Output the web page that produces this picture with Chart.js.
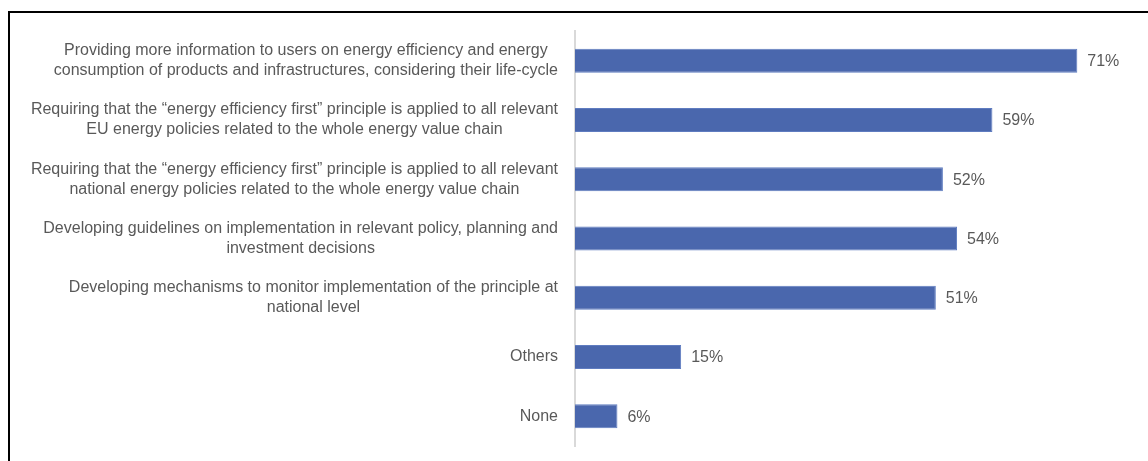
<!DOCTYPE html>
<html>
<head>
<meta charset="utf-8">
<script src="https://cdn.jsdelivr.net/npm/chart.js@4/dist/chart.umd.min.js"></script>
<style>
  html, body { margin: 0; padding: 0; background: #fff; }
  #wrap { position: relative; width: 1148px; height: 461px; overflow: hidden; }
  #frame { position: absolute; left: 8px; top: 11px; width: 1200px; height: 500px;
           border-top: 2px solid #000; border-left: 2px solid #000; }
  canvas { position: absolute; left: 0; top: 0; }
</style>
</head>
<body>
<div id="wrap">
  <div id="frame"></div>
  <canvas id="bars" width="1148" height="461"></canvas>
</div>
<script>
var categories = [
    ["Providing more information to users on energy efficiency and energy", "consumption of products and infrastructures, considering their life-cycle"],
    ["Requiring that the \u201cenergy efficiency first\u201d principle is applied to all relevant", "EU energy policies related to the whole energy value chain"],
    ["Requiring that the \u201cenergy efficiency first\u201d principle is applied to all relevant", "national energy policies related to the whole energy value chain"],
    ["Developing guidelines on implementation in relevant policy, planning and", "investment decisions"],
    ["Developing mechanisms to monitor implementation of the principle at", "national level"],
    ["Others"],
    ["None"]
];
var shares = [71, 59, 52, 54, 51, 15, 6];

var textColor = '#595959';
var labelFont = '16px "Liberation Sans", Arial, sans-serif';
var valueFont = '16px "Liberation Sans", Arial, sans-serif';

// category labels: each block right aligned to the axis, its lines centred inside the block
var categoryLabels = {
    id: 'categoryLabels',
    afterDraw: function (chart) {
        var ctx = chart.ctx;
        var y = chart.scales.y;
        var right = chart.chartArea.left - 17;
        var lineH = 20;
        ctx.save();
        ctx.font = labelFont;
        ctx.fillStyle = textColor;
        ctx.textAlign = 'center';
        ctx.textBaseline = 'middle';
        categories.forEach(function (lines, i) {
            var w = 0;
            lines.forEach(function (l) { w = Math.max(w, ctx.measureText(l).width); });
            var cx = right - w / 2;
            var cy = y.getPixelForTick(i);
            var top = cy - (lines.length - 1) * lineH / 2;
            lines.forEach(function (l, k) {
                ctx.fillText(l, cx, top + k * lineH);
            });
        });
        ctx.restore();
    }
};

// percentage next to the end of each bar
var valueLabels = {
    id: 'valueLabels',
    afterDatasetsDraw: function (chart) {
        var ctx = chart.ctx;
        var meta = chart.getDatasetMeta(0);
        ctx.save();
        ctx.font = valueFont;
        ctx.fillStyle = textColor;
        ctx.textAlign = 'left';
        ctx.textBaseline = 'middle';
        meta.data.forEach(function (bar, i) {
            ctx.fillText(shares[i] + '%', bar.x + 10, bar.y + 1);
        });
        ctx.restore();
    }
};

var ctx = document.getElementById('bars');

var chartGraph = new Chart(ctx, {
    type: 'bar',
    data: {
        labels: categories,
        datasets: [
            {
                data: shares,
                backgroundColor: '#4a67ad',
                borderColor: '#5f7cc0',
                borderWidth: 1,
                borderSkipped: 'start',
                categoryPercentage: 1,
                barPercentage: 0.405
            }
        ]
    },
    options: {
        indexAxis: 'y',
        responsive: false,
        animation: false,
        layout: {
            padding: { left: 0, top: 31, right: 7, bottom: 15 }
        },
        plugins: {
            legend: { display: false },
            tooltip: { enabled: false }
        },
        scales: {
            x: {
                display: false,
                min: 0,
                max: 80
            },
            y: {
                grid: { display: false },
                border: { display: true, color: '#d9d9d9', width: 2 },
                ticks: { display: false },
                afterFit: function (scale) { scale.width = 575; }
            }
        }
    },
    plugins: [categoryLabels, valueLabels]
});
</script>
</body>
</html>
